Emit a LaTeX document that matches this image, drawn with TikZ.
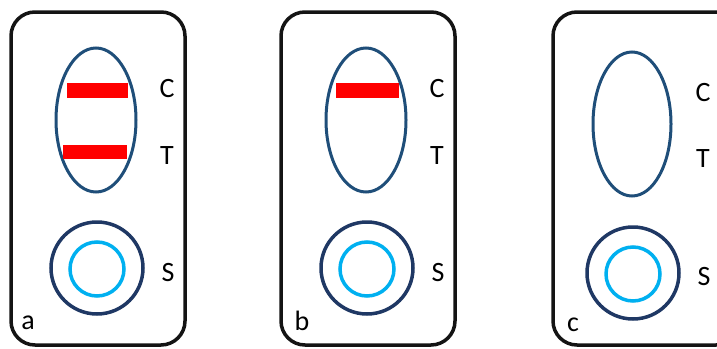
\documentclass[tikz,border=0pt]{standalone}
\usepackage{fontspec}
\setmainfont{Carlito}
\definecolor{ellblue}{HTML}{1F4E79}
\definecolor{navy}{HTML}{1F3864}
\definecolor{cyanring}{HTML}{00B0F0}
\begin{document}
\begin{tikzpicture}[x=1pt,y=-1pt,
  card/.style={draw=black!92,line width=3.5pt,rounded corners=24pt},
  window/.style={draw=ellblue,line width=3pt},
  outerring/.style={draw=navy,line width=3.5pt},
  innerring/.style={draw=cyanring,line width=3.5pt},
  band/.style={fill=red},
  lbl/.style={font=\fontsize{28}{31}\selectfont,inner sep=0pt,anchor=center}]
\useasboundingbox (0,0) rectangle (717,348);
% panel a
\draw[card] (11,12) rectangle (185,345);
\draw[window] (96,120) ellipse [x radius=40, y radius=72];
\fill[band] (67,83) rectangle (128,98);
\fill[band] (63,145) rectangle (127,159);
\draw[outerring] (97,268) circle [radius=46];
\draw[innerring] (97,269) circle [radius=27];
\node[lbl] (aC) at (167,89) {C};
\node[lbl] (aT) at (167,156) {T};
\node[lbl] (aS) at (168,273) {S};
\node[lbl] (aa) at (28,323) {a};
% panel b
\draw[card] (281,12) rectangle (455,345);
\draw[window] (366,120) ellipse [x radius=40, y radius=72];
\fill[band] (336,83) rectangle (399,98);
\draw[outerring] (367,268) circle [radius=46];
\draw[innerring] (367,269) circle [radius=27];
\node[lbl] (bC) at (437,89) {C};
\node[lbl] (bT) at (437,156) {T};
\node[lbl] (bS) at (438,273) {S};
\node[lbl] (bb) at (302,321) {b};
% panel c
\draw[card] (553,12) rectangle (740,345);
\draw[window] (632,124) ellipse [x radius=39, y radius=72];
\draw[outerring] (633,273) circle [radius=46];
\draw[innerring] (633,274) circle [radius=27];
\node[lbl] (cC) at (703,93) {C};
\node[lbl] (cT) at (703,159) {T};
\node[lbl] (cS) at (704,277) {S};
\node[lbl] (cc) at (573,325) {c};
\end{tikzpicture}
\end{document}
